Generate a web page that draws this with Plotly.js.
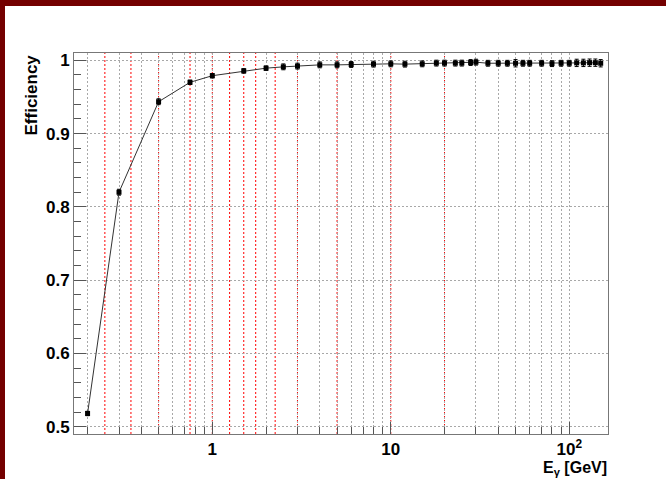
<!DOCTYPE html>
<html>
<head>
<meta charset="utf-8">
<script src="https://cdn.plot.ly/plotly-3.0.1.min.js"></script>
<style>
  html, body { margin: 0; padding: 0; background: #ffffff; }
  #wrap { position: relative; width: 666px; height: 479px; overflow: hidden; }
  #chart { position: absolute; left: 0; top: 0; width: 666px; height: 479px; }
  .band { position: absolute; background: #740000; }
</style>
</head>
<body>
<div id="wrap">
  <div id="chart"></div>
  <div class="band" style="left:0;top:0;width:666px;height:6px;"></div>
  <div class="band" style="left:0;top:0;width:5px;height:479px;"></div>
</div>
<script>
// Photon energy (GeV)
const energy = [0.2, 0.3, 0.5, 0.75, 1, 1.5, 2, 2.5, 3, 4, 5, 6, 8, 10, 12, 15, 18, 20, 23, 25, 28, 30,
                35, 40, 45, 50, 55, 60, 70, 80, 90, 100, 110, 120, 130, 140, 150];
// Efficiency
const efficiency = [0.518, 0.820, 0.9435, 0.970, 0.979, 0.9856, 0.9893, 0.9911, 0.9921, 0.9938, 0.9938,
                    0.9943, 0.9948, 0.9952, 0.9948, 0.9952, 0.9962, 0.9962, 0.9962, 0.9962, 0.9970, 0.9975,
                    0.9960, 0.9960, 0.9960, 0.9960, 0.9960, 0.9960, 0.9960, 0.9955, 0.9960, 0.9960, 0.9965,
                    0.9965, 0.9968, 0.9968, 0.9960];
// Efficiency uncertainty
const effError = [0.003, 0.004, 0.004, 0.003, 0.003, 0.003, 0.003, 0.004, 0.004, 0.004, 0.004,
                  0.004, 0.004, 0.004, 0.004, 0.004, 0.004, 0.004, 0.004, 0.004, 0.004, 0.004,
                  0.004, 0.004, 0.004, 0.005, 0.004, 0.004, 0.004, 0.004, 0.004, 0.004, 0.005,
                  0.005, 0.005, 0.005, 0.005];
// Red dotted reference lines (GeV)
const redLines = [0.25, 0.35, 0.5, 0.75, 1, 1.25, 1.5, 1.75, 2.25, 3, 5, 10, 20];
// Axis ticks
const xMajorVals = [1, 10, 100];
const xMajorText = ['1', '10', '10<sup>2</sup>'];
const xMinorVals = [0.2, 0.3, 0.4, 0.5, 0.6, 0.7, 0.8, 0.9, 2, 3, 4, 5, 6, 7, 8, 9,
                    20, 30, 40, 50, 60, 70, 80, 90];
const yTickVals = [0.5, 0.6, 0.7, 0.8, 0.9, 1.0];
const yTickText = ['0.5', '0.6', '0.7', '0.8', '0.9', '1'];

const FONT = 'Liberation Sans, Arial, Helvetica, sans-serif';
const gridCol = '#a8a8a8';
const DOT = '2px,2px';

const trace = {
  x: energy, y: efficiency, type: 'scatter', mode: 'lines+markers',
  line: { color: '#333333', width: 1 },
  marker: { symbol: 'square', size: 5, color: '#000000' },
  error_y: { type: 'data', array: effError, visible: true, color: '#000000', thickness: 1, width: 2 },
  showlegend: false, hoverinfo: 'x+y'
};

const shapes = redLines.map(v => ({
  type: 'line', xref: 'x', yref: 'paper', x0: v, x1: v, y0: 0, y1: 1,
  line: { color: '#ff0000', width: 1, dash: DOT }, layer: 'between'
}));

const layout = {
  width: 666, height: 479,
  margin: { l: 74, r: 58, t: 53, b: 45, pad: 0 },
  paper_bgcolor: '#ffffff', plot_bgcolor: '#ffffff',
  font: { family: FONT, color: '#000000' },
  xaxis: {
    type: 'log', range: [-0.775, 2.217],
    tickmode: 'array', tickvals: xMajorVals, ticktext: xMajorText,
    ticks: 'inside', ticklen: 12, tickcolor: '#555555', tickwidth: 1,
    tickfont: { family: FONT, size: 17, weight: 'bold', color: '#000000' },
    showgrid: true, gridcolor: gridCol, griddash: DOT, gridwidth: 1,
    minor: { tickmode: 'array', tickvals: xMinorVals, ticks: 'inside', ticklen: 7,
             tickcolor: '#555555', showgrid: true, gridcolor: gridCol, griddash: DOT, gridwidth: 1 },
    showline: true, linecolor: '#777777', linewidth: 1, mirror: true,
    zeroline: false
  },
  yaxis: {
    range: [0.49, 1.01],
    tickmode: 'array', tickvals: yTickVals, ticktext: yTickText,
    ticks: 'inside', ticklen: 12, tickcolor: '#555555', tickwidth: 1,
    tickfont: { family: FONT, size: 17, weight: 'bold', color: '#000000' },
    showgrid: true, gridcolor: gridCol, griddash: DOT, gridwidth: 1,
    minor: { dtick: 0.02, tick0: 0.5, ticks: 'inside', ticklen: 7, tickcolor: '#555555', showgrid: false },
    showline: true, linecolor: '#777777', linewidth: 1, mirror: true,
    zeroline: false
  },
  shapes: shapes,
  annotations: [
    { text: 'E<sub>γ</sub> [GeV]', xref: 'paper', yref: 'paper', x: 1, y: 0,
      xanchor: 'right', yanchor: 'top', yshift: -24, borderpad: 0, showarrow: false,
      font: { family: FONT, size: 16, weight: 'bold', color: '#000000' } },
    { text: 'Efficiency', xref: 'paper', yref: 'paper', x: 0, y: 1,
      xanchor: 'center', yanchor: 'top', xshift: -43, textangle: -90, showarrow: false,
      font: { family: FONT, size: 17, weight: 'bold', color: '#000000' } }
  ]
};

Plotly.newPlot('chart', [trace], layout, { displayModeBar: false, staticPlot: true });
</script>
</body>
</html>
